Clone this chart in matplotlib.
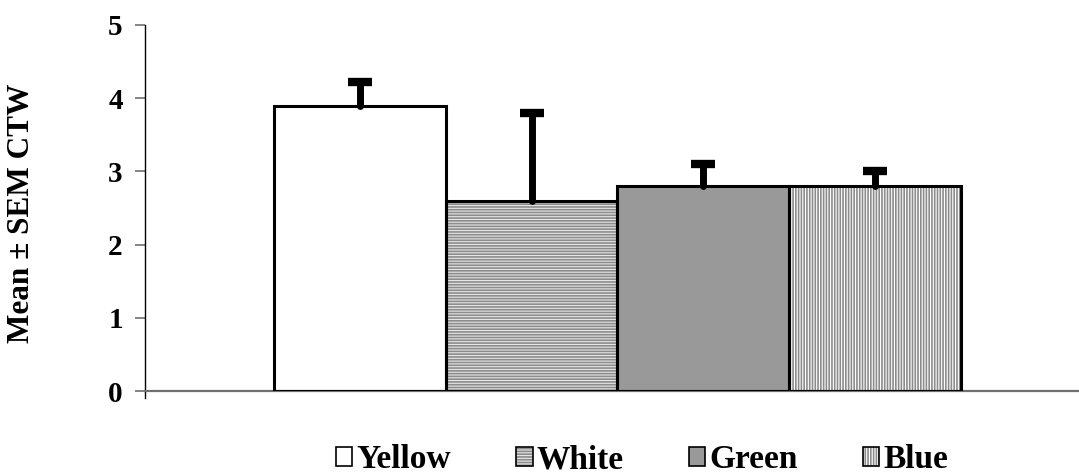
import matplotlib
matplotlib.use("Agg")
import matplotlib.pyplot as plt
from matplotlib.patches import Patch
import numpy as np

categories = ["Yellow", "White", "Green", "Blue"]
means = [3.9, 2.6, 2.8, 2.8]
sem = [0.32, 1.2, 0.3, 0.2]
y_ticks = [0, 1, 2, 3, 4, 5]
y_label = "Mean \u00b1 SEM CTW"

faces = ["white", "#e6e6e6", "#999999", "white"]
hatches = [None, "------", None, "||||||"]
hatch_cols = ["white", "#8c8c8c", "#999999", "#8c8c8c"]

plt.rcParams["font.family"] = ["Liberation Serif", "DejaVu Serif"]
plt.rcParams["font.weight"] = "bold"
plt.rcParams["hatch.linewidth"] = 1.2

W, H = 1079, 476
fig = plt.figure(figsize=(W / 100, H / 100), dpi=100)
ax = fig.add_axes([145 / W, (476 - 391) / H, (1079 - 145) / W, (391 - 25) / H])

x = np.arange(len(categories))
ax.bar(x, means, width=1.0, color=faces, edgecolor=hatch_cols, hatch=hatches, linewidth=0, zorder=2)
ax.bar(x, means, width=1.0, color="none", edgecolor="black", linewidth=2.2, zorder=3)
_, caps, bars = ax.errorbar(x, means, yerr=[np.zeros(len(sem)), sem], fmt="none", ecolor="black",
                            elinewidth=5, capsize=8, capthick=6, lolims=True, zorder=4)
for c in caps:
    yd = np.asarray(c.get_ydata(), dtype=float)
    if np.allclose(yd, means):
        c.set_visible(False)
        continue
    c.set_marker("_")
    c.set_markersize(17)
    c.set_markeredgewidth(6)
for b in bars:
    b.set_capstyle("round")

ax.set_xlim(-1.251, 4.187)
ax.set_ylim(0, 5)
ax.set_yticks(y_ticks)
ax.set_yticklabels([str(t) for t in y_ticks], fontsize=21, fontweight="bold")
ax.set_xticks([])
for s in ["top", "right"]:
    ax.spines[s].set_visible(False)
ax.spines["left"].set_color("black")
ax.spines["left"].set_linewidth(1.0)
ax.spines["bottom"].set_color("#707070")
ax.spines["bottom"].set_linewidth(1.6)
ax.tick_params(axis="y", direction="out", length=7, width=1.2, color="#707070", pad=9)
ax.plot([0, 0], [0, -0.02], transform=ax.transAxes, color="black", lw=1.0, clip_on=False)

fig.text(22 / W, 1 - 213 / H, y_label, rotation=90, ha="center", va="center",
         fontsize=22.5, fontweight="bold")

handles = [Patch(facecolor=faces[i], edgecolor=hatch_cols[i], hatch=hatches[i], linewidth=0)
           for i in range(4)]
handles2 = [Patch(facecolor="none", edgecolor="black", linewidth=1.2) for i in range(4)]
leg = fig.legend([(h, h2) for h, h2 in zip(handles, handles2)], categories, ncol=4,
                 loc="center", bbox_to_anchor=(642 / W, 1 - 460 / H), frameon=False,
                 handlelength=0.5, handleheight=0.5, handletextpad=0.12,
                 columnspacing=1.95, prop={"size": 24, "weight": "bold"})

fig.savefig("out.png", dpi=100)
